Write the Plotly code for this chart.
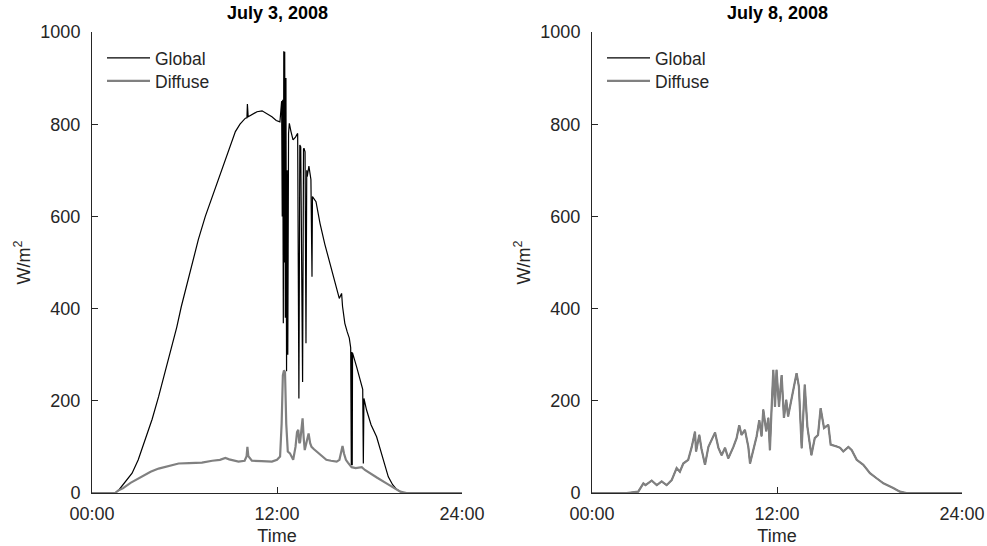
import plotly.graph_objects as go

# ---- Data: July 3, 2008 (hours, W/m^2) ----
t_glob_jul3 = [0, 1.0, 1.5, 1.73, 2.1, 2.6, 3.0, 3.46, 3.9, 4.32, 4.75, 5.19, 5.5, 5.79, 6.1, 6.49,
               6.9, 7.35, 7.8, 8.22, 8.55, 8.87, 9.1, 9.3, 9.6, 9.95, 10.05, 10.08, 10.13, 10.4,
               10.7, 11.03, 11.35, 11.67, 11.95, 12.19, 12.3, 12.34, 12.37, 12.41, 12.44, 12.47,
               12.5, 12.54, 12.58, 12.62, 12.66, 12.7, 12.75, 12.8, 12.9, 13.04, 13.2, 13.34,
               13.42, 13.48, 13.54, 13.66, 13.72, 13.75, 13.82, 13.88, 13.93, 13.96, 14.07, 14.2,
               14.27, 14.3, 14.53, 14.79, 15.1, 15.43, 15.75, 16.04, 16.12, 16.19, 16.25, 16.4,
               16.55, 16.69, 16.78, 16.82, 16.86, 16.88, 16.9, 17.16, 17.49, 17.56, 17.6, 17.64,
               17.81, 18.1, 18.46, 18.85, 19.22, 19.5, 19.76, 20.1, 20.5, 22, 24]
global_jul3 = [0, 0, 0, 6, 22, 43, 72, 115, 160, 209, 262, 317, 360, 404, 446, 498,
               550, 600, 642, 679, 712, 744, 765, 784, 800, 813, 814, 844, 816, 822,
               827, 829, 823, 816, 808, 805, 850, 600, 853, 368, 958, 500,
               957, 380, 900, 264, 700, 300, 780, 802, 785, 766, 772, 780,
               205, 755, 751, 241, 746, 748, 740, 325, 700, 686, 709, 680,
               469, 643, 632, 585, 540, 498, 458, 422, 428, 433, 405, 368,
               350, 336, 315, 61, 306, 60, 304, 274, 238, 225, 64, 205,
               180, 148, 122, 75, 35, 18, 8, 1, 0, 0, 0]

t_diff_jul3 = [0, 1.5, 1.73, 2.0, 2.5, 3.24, 3.8, 4.32, 5.0, 5.62, 6.3, 7.13, 7.8, 8.3, 8.65, 8.9,
               9.5, 9.9, 10.03, 10.08, 10.14, 10.37, 11.0, 11.67, 12.0, 12.2, 12.3, 12.38, 12.45,
               12.52, 12.6, 12.7, 12.84, 13.05, 13.2, 13.3, 13.38, 13.45, 13.5, 13.58, 13.66,
               13.73, 13.8, 13.95, 14.05, 14.15, 14.24, 14.4, 14.57, 14.9, 15.2, 15.5, 15.87,
               16.05, 16.15, 16.25, 16.35, 16.47, 16.6, 16.84, 17.1, 17.3, 17.5, 17.7, 18.0,
               18.5, 19.1, 19.6, 20.0, 20.4, 24]
diffuse_jul3 = [0, 0, 6, 10, 22, 35, 46, 53, 59, 64, 65, 66, 70, 72, 76, 73,
                68, 70, 80, 100, 80, 70, 69, 68, 72, 79, 150, 255, 266,
                262, 150, 90, 86, 72, 100, 132, 137, 108, 111, 135, 162,
                120, 93, 115, 129, 108, 100, 95, 90, 80, 72, 70, 68,
                72, 90, 102, 85, 72, 66, 56, 54, 55, 56, 50, 43,
                33, 21, 10, 3, 0, 0]

# ---- Data: July 8, 2008 (overcast: global equals diffuse) ----
t_jul8 = [0, 2.25, 3.0, 3.33, 3.47, 3.87, 4.2, 4.52, 4.84, 5.17, 5.49, 5.7, 5.92, 6.24, 6.47,
          6.68, 6.75, 6.96, 7.1, 7.33, 7.55, 7.76, 7.98, 8.2, 8.41, 8.63, 8.84, 9.17, 9.38,
          9.55, 9.7, 9.92, 10.14, 10.25, 10.46, 10.68, 10.85, 11.0, 11.11, 11.3, 11.44, 11.54,
          11.65, 11.76, 11.87, 11.97, 12.13, 12.3, 12.45, 12.6, 12.72, 12.93, 13.1, 13.27,
          13.42, 13.6, 13.8, 13.97, 14.23, 14.45, 14.66, 14.83, 15.05, 15.33, 15.48, 15.87,
          16.1, 16.3, 16.63, 16.85, 17.17, 17.6, 18.03, 18.46, 18.9, 19.54, 19.97, 20.4, 24]
diffuse_jul8 = [0, 0, 3, 21, 17, 27, 17, 25, 17, 28, 54, 46, 64, 72, 100,
                133, 90, 126, 96, 61, 100, 116, 131, 98, 82, 98, 75, 100, 119,
                147, 126, 137, 100, 64, 93, 123, 158, 123, 181, 134, 163, 93,
                184, 267, 187, 267, 187, 256, 163, 202, 166, 206, 231, 260,
                231, 97, 235, 144, 82, 119, 126, 184, 141, 148, 105, 101,
                98, 90, 100, 93, 72, 61, 43, 32, 21, 11, 3, 0, 0]
global_jul8 = list(diffuse_jul8)

x_tickvals = [0, 12, 24]
x_ticktext = ["00:00", "12:00", "24:00"]
y_tickvals = [0, 200, 400, 600, 800, 1000]
titles = ["July 3, 2008", "July 8, 2008"]

W, H = 987, 546
FONT = "Liberation Sans, Arial, Helvetica, sans-serif"
AX = "#262626"
GRAY = "#808080"

def px_x(p):
    return p / W

def px_y(p):
    return 1 - p / H

fig = go.Figure()
fig.add_trace(go.Scatter(x=t_glob_jul3, y=global_jul3, mode="lines", name="Global", showlegend=True,
                         line=dict(color="black", width=1.2), xaxis="x", yaxis="y", legend="legend"))
fig.add_trace(go.Scatter(x=t_diff_jul3, y=diffuse_jul3, mode="lines", name="Diffuse", showlegend=True,
                         line=dict(color=GRAY, width=2.2), xaxis="x", yaxis="y", legend="legend2"))
fig.add_trace(go.Scatter(x=t_jul8, y=global_jul8, mode="lines", name="Global", showlegend=True,
                         line=dict(color="black", width=1.2), xaxis="x2", yaxis="y2", legend="legend3"))
fig.add_trace(go.Scatter(x=t_jul8, y=diffuse_jul8, mode="lines", name="Diffuse", showlegend=True,
                         line=dict(color=GRAY, width=2.2), xaxis="x2", yaxis="y2", legend="legend4"))

dom_y = [px_y(493), px_y(32)]
doms_x = [[px_x(92), px_x(462)], [px_x(592), px_x(962)]]

def xaxis_cfg(dom, anchor):
    return dict(domain=dom, anchor=anchor, range=[0, 24], tickvals=x_tickvals, ticktext=x_ticktext,
                ticks="inside", ticklen=6, tickcolor=AX, showline=True, linecolor=AX, linewidth=1,
                showgrid=False, zeroline=False, ticklabelstandoff=4,
                tickfont=dict(size=18, color=AX, family=FONT),
                title=dict(text="Time", font=dict(size=18, color=AX, family=FONT), standoff=8))

def yaxis_cfg(anchor):
    return dict(domain=dom_y, anchor=anchor, range=[0, 1000], tickvals=y_tickvals,
                ticks="inside", ticklen=6, tickcolor=AX, showline=True, linecolor=AX, linewidth=1,
                showgrid=False, zeroline=False, ticklabelstandoff=7,
                tickfont=dict(size=18, color=AX, family=FONT),
                title=dict(text="W/m<sup>2</sup>", font=dict(size=18, color=AX, family=FONT), standoff=5))

leg_common = dict(bgcolor="rgba(0,0,0,0)", borderwidth=0, font=dict(size=17.5, color=AX, family=FONT),
                  xanchor="left", yanchor="top", itemwidth=43, visible=True)

fig.update_layout(
    width=W, height=H,
    showlegend=True,
    margin=dict(l=0, r=0, t=0, b=0, autoexpand=False),
    paper_bgcolor="white", plot_bgcolor="white",
    font=dict(family=FONT, color=AX),
    xaxis=xaxis_cfg(doms_x[0], "y"),
    yaxis=yaxis_cfg("x"),
    xaxis2=xaxis_cfg(doms_x[1], "y2"),
    yaxis2=yaxis_cfg("x2"),
    legend=dict(x=px_x(102), y=px_y(40), **leg_common),
    legend2=dict(x=px_x(102), y=px_y(63), **leg_common),
    legend3=dict(x=px_x(602), y=px_y(40), **leg_common),
    legend4=dict(x=px_x(602), y=px_y(63), **leg_common),
    annotations=[
        dict(text="<b>%s</b>" % titles[i], x=(doms_x[i][0] + doms_x[i][1]) / 2, y=px_y(13),
             xref="paper", yref="paper", xanchor="center", yanchor="middle", showarrow=False,
             font=dict(size=18, color="black", family=FONT))
        for i in range(2)
    ],
)

fig.write_html("out.html")
